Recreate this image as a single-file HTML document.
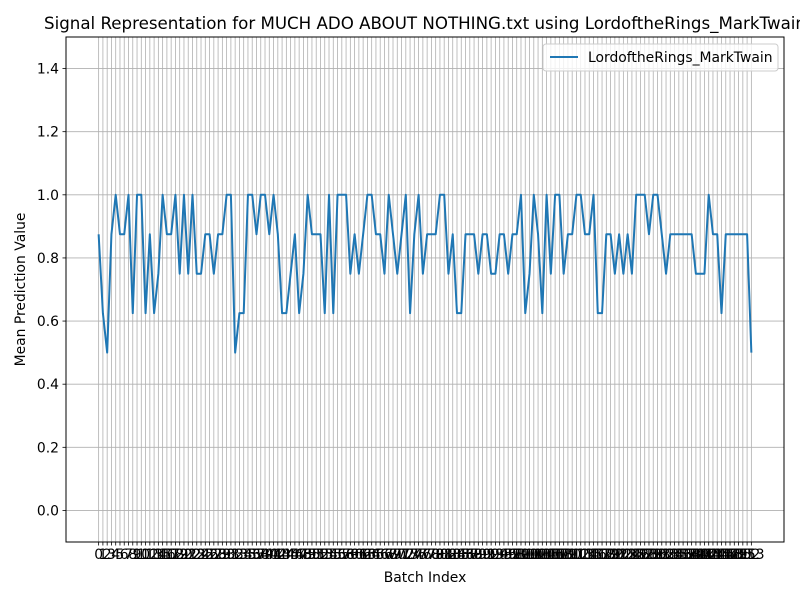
<!DOCTYPE html>
<html><head><meta charset="utf-8"><style>body{margin:0;background:#fff}svg{display:block;font-family:"DejaVu Sans","Liberation Sans",sans-serif}</style></head>
<body>
<svg id="chart" width="800" height="600">
<rect x="0" y="0" width="800" height="600" fill="#fff"/>
<g id="grid"></g>
<path id="line" fill="none" stroke="#1f77b4" stroke-width="2" stroke-linejoin="round"/>
<rect x="66" y="37" width="718" height="505" fill="none" stroke="#000" stroke-width="1"/>
<g id="xt"></g><g id="yt"></g>
<text x="425" y="29" font-size="16.67" text-anchor="middle">Signal Representation for MUCH ADO ABOUT NOTHING.txt using LordoftheRings_MarkTwain</text>
<text x="425" y="582" font-size="13.9" text-anchor="middle">Batch Index</text>
<text transform="translate(25,289.5) rotate(-90)" font-size="13.9" text-anchor="middle">Mean Prediction Value</text>
<g>
<rect x="543" y="44" width="235" height="27" rx="3" fill="#fff" fill-opacity="0.8" stroke="#ccc"/>
<line x1="550" y1="57" x2="578" y2="57" stroke="#1f77b4" stroke-width="2"/>
<text x="588" y="62" font-size="13.9">LordoftheRings_MarkTwain</text>
</g>
</svg>
<script>
const values = [0.875,0.625,0.5,0.875,1,0.875,0.875,1,0.625,1,1,0.625,0.875,0.625,0.75,1,0.875,0.875,1,0.75,1,0.75,1,0.75,0.75,0.875,0.875,0.75,0.875,0.875,1,1,0.5,0.625,0.625,1,1,0.875,1,1,0.875,1,0.875,0.625,0.625,0.75,0.875,0.625,0.75,1,0.875,0.875,0.875,0.625,1,0.625,1,1,1,0.75,0.875,0.75,0.875,1,1,0.875,0.875,0.75,1,0.875,0.75,0.875,1,0.625,0.875,1,0.75,0.875,0.875,0.875,1,1,0.75,0.875,0.625,0.625,0.875,0.875,0.875,0.75,0.875,0.875,0.75,0.75,0.875,0.875,0.75,0.875,0.875,1,0.625,0.75,1,0.875,0.625,1,0.75,1,1,0.75,0.875,0.875,1,1,0.875,0.875,1,0.625,0.625,0.875,0.875,0.75,0.875,0.75,0.875,0.75,1,1,1,0.875,1,1,0.875,0.75,0.875,0.875,0.875,0.875,0.875,0.875,0.75,0.75,0.75,1,0.875,0.875,0.625,0.875,0.875,0.875,0.875,0.875,0.875,0.5];
const yTicks = [0.0,0.2,0.4,0.6,0.8,1.0,1.2,1.4];
const NS="http://www.w3.org/2000/svg";
const L=66,R=784,T=37,B=542;
const n=values.length, xmin=-(n-1)*0.05, xmax=(n-1)*1.05;
const X=i=>L+(i-xmin)/(xmax-xmin)*(R-L);
const Y=v=>B-(v+0.1)/1.6*(B-T);
const grid=document.getElementById('grid'), xt=document.getElementById('xt'), yt=document.getElementById('yt');
function mk(tag,attrs,parent){const e=document.createElementNS(NS,tag);for(const k in attrs)e.setAttribute(k,attrs[k]);parent.appendChild(e);return e;}
for(let i=0;i<n;i++){
  const x=X(i);
  const g=mk('line',{x1:x,x2:x,y1:T,y2:B,stroke:'#b0b0b0','stroke-width':0.8},grid);
  
  
  mk('line',{x1:x,x2:x,y1:B,y2:B+3.5,stroke:'#000','stroke-width':0.8},xt);
  const t=mk('text',{x:x,y:B+17,'font-size':13.9,'text-anchor':'middle'},xt);
  t.textContent=String(i);
  
  
}
yTicks.forEach(v=>{
  const y=Y(v);
  const g=mk('line',{x1:L,x2:R,y1:y,y2:y,stroke:'#b0b0b0','stroke-width':0.8},grid);
  
  
  mk('line',{x1:L-3.5,x2:L,y1:y,y2:y,stroke:'#000','stroke-width':0.8},yt);
  const t=mk('text',{x:L-7,y:y+5,'font-size':13.9,'text-anchor':'end'},yt);
  t.textContent=v.toFixed(1);
  
  
});
document.getElementById('line').setAttribute('d',values.map((v,i)=>(i?'L':'M')+X(i).toFixed(2)+' '+Y(v).toFixed(2)).join(''));
</script>
</body></html>
